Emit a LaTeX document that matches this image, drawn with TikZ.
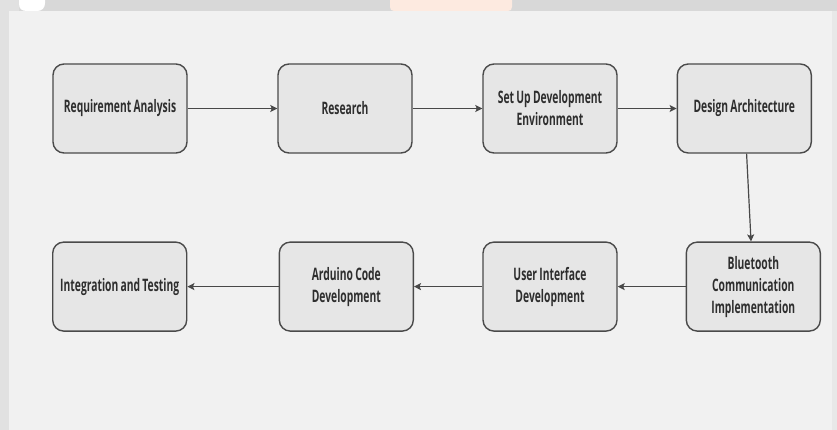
\documentclass[tikz,border=0pt]{standalone}
\usepackage{fontspec}
\setmainfont{Open Sans}[FakeStretch=0.6, WordSpace=0.85]
\usetikzlibrary{arrows.meta}
\definecolor{bgmain}{HTML}{F1F1F1}
\definecolor{bgtop}{HTML}{D8D8D8}
\definecolor{bgleft}{HTML}{E1E1E1}
\definecolor{bgright}{HTML}{E8E8E8}
\definecolor{blobor}{HTML}{FDEAE0}
\definecolor{boxfill}{HTML}{E6E6E6}
\definecolor{boxline}{HTML}{4A4A4A}
\definecolor{txt}{HTML}{2E2E2E}
\definecolor{arr}{HTML}{484848}
\tikzset{
  stepbox/.style={draw=boxline, line width=1.4pt, fill=boxfill, rounded corners=11pt,
    minimum width=134pt, minimum height=89pt, inner sep=2pt, align=center,
    text=txt, font=\fontsize{17.2}{22}\selectfont\bfseries},
  flow/.style={draw=arr, line width=1.6pt, -{Stealth[length=7pt,width=7pt,inset=1.5pt]}}
}
\begin{document}
\begin{tikzpicture}[x=1pt,y=-1pt]
\useasboundingbox (0,0) rectangle (837,430);
\fill[bgtop] (0,0) rectangle (837,430);
\fill[bgleft] (0,0) rectangle (9,430);
\fill[bgleft] (0,0) rectangle (19,11);
\fill[bgmain] (9,11) rectangle (832,430);
\fill[bgright] (832,11) rectangle (837,430);
\fill[white] (19,0) -- (19,4) .. controls (19,9) and (22,11) .. (27,11) -- (37,11) .. controls (42,11) and (45,8) .. (45,3) -- (45,0) -- cycle;
\fill[blobor] (390,0) -- (390,7) .. controls (390,9.5) and (391.5,11) .. (394,11) -- (508,11) .. controls (510.5,11) and (512,9.5) .. (512,7) -- (512,0) -- cycle;

\node[stepbox] (req) at (120,108.5) {Requirement Analysis};
\node[stepbox] (res) at (345,108.5) {Research};
\node[stepbox] (env) at (550,108.5) {Set Up Development\\Environment};
\node[stepbox] (arch) at (744.3,108.5) {Design Architecture};
\node[stepbox] (bt) at (753.3,286.6) {Bluetooth\\Communication\\Implementation};
\node[stepbox] (ui) at (550,286.6) {User Interface\\Development};
\node[stepbox] (ard) at (346.3,286.6) {Arduino Code\\Development};
\node[stepbox] (int) at (119.7,286.6) {Integration and Testing};

\draw[flow] (req) -- (res);
\draw[flow] (res) -- (env);
\draw[flow] (env) -- (arch);
\draw[flow, line width=1.2pt] (arch) -- (bt);
\draw[flow] (bt) -- (ui);
\draw[flow] (ui) -- (ard);
\draw[flow] (ard) -- (int);
\end{tikzpicture}
\end{document}
